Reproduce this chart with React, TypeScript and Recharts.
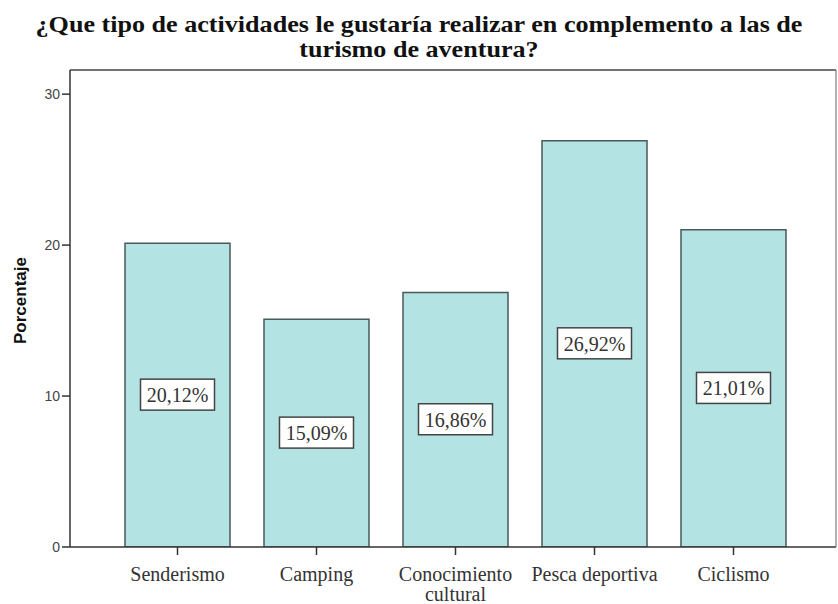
import { BarChart, Bar, XAxis, YAxis, LabelList, ReferenceLine } from 'recharts';

const categories = ['Senderismo', 'Camping', 'Conocimiento cultural', 'Pesca deportiva', 'Ciclismo'];
const tickLines = [['Senderismo'], ['Camping'], ['Conocimiento', 'cultural'], ['Pesca deportiva'], ['Ciclismo']];
const porcentaje = [20.12, 15.09, 16.86, 26.92, 21.01];
const yTicks = [0, 10, 20, 30];

const data = categories.map((name, i) => ({ name, value: porcentaje[i] }));

const serif = '"Liberation Serif", "Times New Roman", serif';
const sans = '"Liberation Sans", Arial, sans-serif';

const CategoryTick = (props: any) => {
  const { x, y, index } = props;
  const lines = tickLines[index] || [];
  return (
    <text x={x} y={y} textAnchor="middle" fontFamily={serif} fontSize={20} fill="#333">
      {lines.map((l, i) => (
        <tspan key={i} x={x} dy={i === 0 ? 24 : 20}>
          {l}
        </tspan>
      ))}
    </text>
  );
};

const BoxLabel = (props: any) => {
  const { x, y, width, height, value } = props;
  const cx = x + width / 2;
  const cy = y + height / 2;
  const text = value.toFixed(2).replace('.', ',') + '%';
  return (
    <g>
      <rect x={cx - 37} y={cy - 16} width={74} height={31} fill="#fff" stroke="#444" strokeWidth={1.5} />
      <text x={cx} y={cy} textAnchor="middle" dominantBaseline="central" fontFamily={serif} fontSize={20} fill="#333">
        {text}
      </text>
    </g>
  );
};

const App = () => {
  return (
    <div style={{ position: 'absolute', left: 0, top: 0, width: 838, height: 604, background: '#fff' }}>
      <BarChart
        width={838}
        height={604}
        data={data}
        margin={{ top: 70, right: 0, bottom: 0, left: 0 }}
        barCategoryGap={17}
        style={{ position: 'absolute', left: 0, top: 0 }}
      >
        <XAxis
          dataKey="name"
          padding={{ left: 38, right: 33 }}
          axisLine={{ stroke: '#333', strokeWidth: 1.5 }}
          tickLine={{ stroke: '#333', strokeWidth: 1.5 }}
          tickSize={8}
          tick={<CategoryTick />}
          interval={0}
          height={57}
        />
        <YAxis
          yAxisId="left"
          domain={[0, 31.6]}
          ticks={yTicks}
          width={70}
          tickSize={8}
          tickMargin={2}
          axisLine={{ stroke: '#333', strokeWidth: 1.5 }}
          tickLine={{ stroke: '#333', strokeWidth: 1.5 }}
          tick={{ fontFamily: sans, fontSize: 14, fill: '#444' }}
          allowDataOverflow
          label={{
            value: 'Porcentaje',
            angle: -90,
            position: 'insideLeft',
            offset: 20,
            dy: -8,
            style: { fontFamily: sans, fontSize: 17, fontWeight: 'bold', fill: '#111', textAnchor: 'middle' },
          }}
        />
        <YAxis
          yAxisId="right"
          orientation="right"
          domain={[0, 31.6]}
          width={2}
          tick={false}
          tickLine={false}
          axisLine={{ stroke: '#666', strokeWidth: 1 }}
        />
        <ReferenceLine yAxisId="left" y={31.6} stroke="#444" strokeWidth={1.5} />
        <Bar yAxisId="left" dataKey="value" fill="#b3e3e3" stroke="#4a5a5a" strokeWidth={1.5} isAnimationActive={false}>
          <LabelList dataKey="value" content={<BoxLabel />} />
        </Bar>
      </BarChart>
      <div
        style={{
          position: 'absolute',
          left: 0,
          top: 12,
          width: 838,
          textAlign: 'center',
          fontFamily: serif,
          fontWeight: 'bold',
          fontSize: 23,
          lineHeight: '25px',
          color: '#111',
          transform: 'scaleX(1.135)',
          transformOrigin: '419px 0',
        }}
      >
        ¿Que tipo de actividades le gustaría realizar en complemento a las de
        <br />
        turismo de aventura?
      </div>
    </div>
  );
};

export default App;
